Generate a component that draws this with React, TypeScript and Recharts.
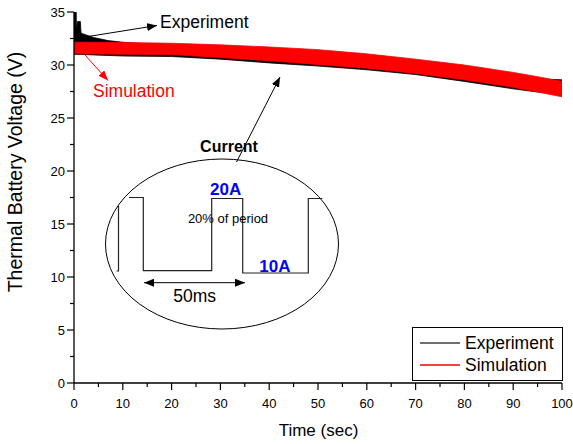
import React from 'react';
import { ComposedChart, Area, XAxis, YAxis, Legend, Customized } from 'recharts';

// ---- Data ----
const expTime = [0, 0.45, 0.5, 0.7, 1.3, 1.45, 4, 7, 10, 20, 30, 40, 50, 60, 70, 80, 90, 95, 100];
const expLow = [31.0, 31.0, 31.0, 31.0, 31.0, 31.0, 30.95, 30.9, 30.85, 30.8, 30.55, 30.2, 29.9, 29.55, 29.1, 28.45, 27.75, 27.45, 27.3];
const expHigh = [35.0, 35.0, 33.3, 34.1, 34.1, 33.0, 32.6, 32.3, 32.15, 31.8, 31.6, 31.4, 31.1, 30.7, 30.3, 29.7, 29.0, 28.7, 28.6];

const simTime = [0, 10, 20, 30, 40, 50, 60, 70, 80, 90, 95, 100];
const simLow = [31.05, 31.02, 30.98, 30.7, 30.4, 30.05, 29.7, 29.2, 28.6, 27.9, 27.45, 27.0];
const simHigh = [32.15, 32.12, 32.05, 31.9, 31.7, 31.45, 31.05, 30.55, 30.0, 29.3, 28.9, 28.45];

const xTicks = [0, 5, 10, 15, 20, 25, 30, 35, 40, 45, 50, 55, 60, 65, 70, 75, 80, 85, 90, 95, 100];
const yTicks = [0, 2.5, 5, 7.5, 10, 12.5, 15, 17.5, 20, 22.5, 25, 27.5, 30, 32.5, 35];

const seriesNames = ['Experiment', 'Simulation'];
const seriesColors = ['#000000', '#ff0000'];
const xTitle = 'Time (sec)';
const yTitle = 'Thermal Battery Voltage (V)';

const expRows = expTime.map((t, i) => ({ t, v: [expLow[i], expHigh[i]] }));
const simRows = simTime.map((t, i) => ({ t, v: [simLow[i], simHigh[i]] }));

const FONT = '"Liberation Sans", Arial, Helvetica, sans-serif';

const XTick = (props: any) => {
  const { x, y, payload } = props;
  const val = payload.value;
  const major = val % 10 === 0;
  return (
    <g>
      <line x1={x} x2={x} y1={y} y2={y + (major ? 7 : 4)} stroke="#000" strokeWidth={1.2} />
      {major && (
        <text x={x} y={y + 24.5} textAnchor="middle" fontSize={13} fontFamily={FONT} fill="#000">
          {val}
        </text>
      )}
    </g>
  );
};

const YTick = (props: any) => {
  const { x, y, payload } = props;
  const val = payload.value;
  const major = val % 5 === 0;
  return (
    <g>
      <line x1={x - (major ? 7 : 4)} x2={x} y1={y} y2={y} stroke="#000" strokeWidth={1.2} />
      {major && (
        <text x={x - 9} y={y} dy="0.36em" textAnchor="end" fontSize={13} fontFamily={FONT} fill="#000">
          {val}
        </text>
      )}
    </g>
  );
};

const Annotations = () => (
  <g fontFamily={FONT}>
    <defs>
      <marker id="ahK" markerUnits="userSpaceOnUse" markerWidth="10" markerHeight="8" refX="10" refY="4" orient="auto-start-reverse">
        <path d="M0,0 L10,4 L0,8 z" fill="#000" />
      </marker>
      <marker id="ahR" markerUnits="userSpaceOnUse" markerWidth="10" markerHeight="8" refX="10" refY="4" orient="auto-start-reverse">
        <path d="M0,0 L10,4 L0,8 z" fill="#ff0000" />
      </marker>
    </defs>
    {/* axis titles */}
    <text transform="translate(22,172) rotate(-90)" textAnchor="middle" fontSize={19.5} fill="#000">
      {yTitle}
    </text>
    <text x={318.5} y={435.5} textAnchor="middle" fontSize={17} fill="#000">
      {xTitle}
    </text>
    {/* series callouts */}
    <line x1={85} y1={37} x2={157} y2={25.5} stroke="#000" strokeWidth={1} markerEnd="url(#ahK)" />
    <text x={160} y={28.3} fontSize={17.5} fill="#000">{seriesNames[0]}</text>
    <line x1={85} y1={55} x2={108} y2={80.5} stroke="#ff0000" strokeWidth={1} markerEnd="url(#ahR)" />
    <text x={93} y={96.7} fontSize={17.5} fill="#ff0000">{seriesNames[1]}</text>
    {/* inset: current waveform */}
    <line x1={236.5} y1={162} x2={280} y2={77} stroke="#000" strokeWidth={1} markerEnd="url(#ahK)" />
    <text x={229} y={151.7} textAnchor="middle" fontSize={16} fontWeight="bold" fill="#000">Current</text>
    <ellipse cx={222} cy={244} rx={116.5} ry={85} fill="none" stroke="#000" strokeWidth={1} />
    <path d="M116.5,271 H118.5 V206" fill="none" stroke="#222" strokeWidth={1.2} />
    <path d="M129,197.5 H143.3 V270.7 H211.7 V198.5 H242.7 V273 H308.3 V198.5 H322.3" fill="none" stroke="#222" strokeWidth={1.2} />
    <text x={210} y={195} fontSize={17} fontWeight="bold" fill="#0000ff">20A</text>
    <text x={228} y={223.3} textAnchor="middle" fontSize={13} fill="#000">20% of period</text>
    <text x={259.3} y={271.5} fontSize={17} fontWeight="bold" fill="#0000ff">10A</text>
    <line x1={144} y1={282.7} x2={245} y2={282.7} stroke="#000" strokeWidth={1} markerStart="url(#ahK)" markerEnd="url(#ahK)" />
    <text x={173.3} y={301.7} fontSize={17.5} fill="#000">50ms</text>
  </g>
);

const renderLegend = (props: any) => {
  const payload = props.payload || [];
  return (
    <div
      style={{
        boxSizing: 'border-box',
        width: 151,
        height: 54,
        border: '1px solid #000',
        background: '#fff',
        fontFamily: FONT,
        paddingTop: 4,
      }}
    >
      {payload.map((e: any, i: number) => {
        const idx = seriesNames.indexOf(e.value);
        const col = idx >= 0 ? seriesColors[idx] : '#000';
        return (
          <div key={i} style={{ display: 'flex', alignItems: 'center', height: 22, marginLeft: 7 }}>
            <svg width={40} height={6} style={{ marginRight: 5, display: 'block' }}>
              <line x1={0} x2={40} y1={3} y2={3} stroke={col} strokeWidth={1.3} strokeOpacity={idx === 0 ? 0.75 : 1} />
            </svg>
            <span style={{ fontSize: 17.5, color: '#000', lineHeight: '22px' }}>{e.value}</span>
          </div>
        );
      })}
    </div>
  );
};

export default function App() {
  return (
    <div style={{ position: 'absolute', left: 0, top: 0, width: 573, height: 444, background: '#fff', fontFamily: FONT }}>
      <ComposedChart width={573} height={444} margin={{ top: 12, right: 11, left: 14, bottom: 0 }}>
        <XAxis
          dataKey="t"
          type="number"
          domain={[0, 100]}
          ticks={xTicks}
          interval={0}
          height={61}
          tickSize={0}
          tickMargin={0}
          tickLine={false}
          tick={<XTick />}
          axisLine={{ stroke: '#000', strokeWidth: 1.3 }}
          allowDataOverflow
        />
        <YAxis
          type="number"
          domain={[0, 35]}
          ticks={yTicks}
          interval={0}
          width={60}
          tickSize={0}
          tickMargin={0}
          tickLine={false}
          tick={<YTick />}
          axisLine={{ stroke: '#000', strokeWidth: 1.3 }}
          allowDataOverflow
        />
        <Area
          data={expRows}
          dataKey="v"
          name={seriesNames[0]}
          type="linear"
          stroke={seriesColors[0]}
          strokeWidth={0.8}
          fill={seriesColors[0]}
          fillOpacity={1}
          dot={false}
          activeDot={false}
          legendType="line"
          isAnimationActive={false}
        />
        <Area
          data={simRows}
          dataKey="v"
          name={seriesNames[1]}
          type="linear"
          stroke={seriesColors[1]}
          strokeWidth={0.8}
          fill={seriesColors[1]}
          fillOpacity={1}
          dot={false}
          activeDot={false}
          legendType="line"
          isAnimationActive={false}
        />
        <Legend
          layout="vertical"
          align="center"
          verticalAlign="middle"
          wrapperStyle={{ left: 412, top: 327, width: 151, height: 54 }}
          content={renderLegend}
        />
        <Customized component={Annotations} />
      </ComposedChart>
    </div>
  );
}
